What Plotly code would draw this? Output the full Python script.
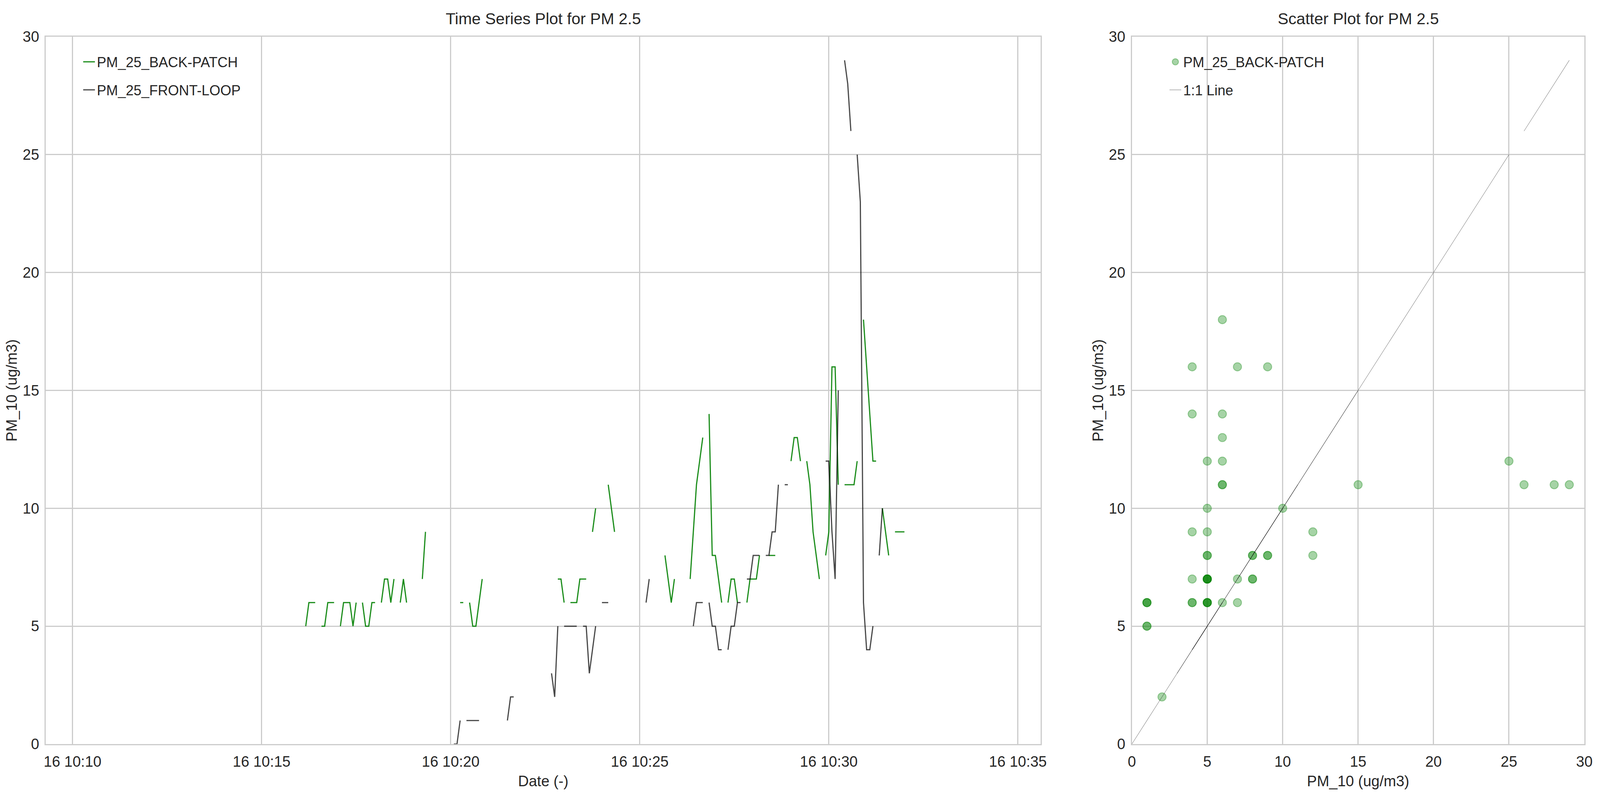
import pandas as pd
import plotly.graph_objects as go

N = None

# 5-second samples starting 16 10:16:00, one row per minute, gaps = None
START = "2023-01-16 10:16:00"

back_patch = [
    N, N, 5, 6, 6, 6, N, 5, 5, 6, 6, 6,            # 10:16
    N, 5, 6, 6, 6, 5, 6, N, 6, 5, 5, 6,            # 10:17
    6, N, 6, 7, 7, 6, 7, N, 6, 7, 6, N,            # 10:18
    N, N, N, 7, 9, N, N, N, N, N, N, N,            # 10:19
    N, N, N, 6, 6, N, 6, 5, 5, 6, 7, N,            # 10:20
    N, N, N, N, N, N, N, N, 2, N, N, N,            # 10:21
    N, N, N, N, N, N, N, N, N, N, 7, 7,            # 10:22
    6, N, 6, 6, 6, 7, 7, 7, N, 9, 10, N,           # 10:23
    N, N, 11, 10, 9, N, N, N, N, N, N, N,          # 10:24
    N, N, N, N, N, N, N, N, 8, 7, 6, 7,            # 10:25
    N, N, N, N, 7, 9, 11, 12, 13, N, 14, 8,        # 10:26
    8, 7, 6, N, 6, 7, 7, 6, N, N, 6, 7,            # 10:27
    7, 7, 8, N, N, 8, 8, 8, N, N, N, N,            # 10:28
    12, 13, 13, 12, N, 12, 11, 9, 8, 7, N, 8,      # 10:29
    9, 16, 16, 11, N, 11, 11, 11, 11, 12, N, 18,   # 10:30
    16, 14, 12, 12, N, 10, 9, 8, N, 9, 9, 9,       # 10:31
    9, N, N, N, N, N, N, N, N, N, N, N,            # 10:32
]

front_loop = [
    N, N, N, N, N, N, N, N, N, N, N, N,            # 10:16
    N, N, N, N, N, N, N, N, N, N, N, N,            # 10:17
    N, N, N, N, N, N, N, N, N, N, N, N,            # 10:18
    N, N, N, N, N, N, N, N, N, N, N, N,            # 10:19
    N, 0, 0, 1, N, 1, 1, 1, 1, 1, N, N,            # 10:20
    N, N, N, N, N, N, 1, 2, 2, N, N, N,            # 10:21
    N, N, N, N, N, N, N, N, 3, 2, 5, N,            # 10:22
    5, 5, 5, 5, 5, N, 5, 5, 3, 4, 5, N,            # 10:23
    6, 6, 6, N, N, N, N, N, N, N, N, N,            # 10:24
    N, N, 6, 7, N, N, N, N, N, N, N, N,            # 10:25
    N, N, N, N, N, 5, 6, 6, 6, N, 6, 5,            # 10:26
    5, 4, 4, N, 4, 5, 5, 6, 6, N, 7, 7,            # 10:27
    8, 8, 8, N, 8, 8, 9, 9, 11, N, 11, 11,         # 10:28
    N, N, N, N, N, N, N, N, N, N, N, 12,           # 10:29
    12, 9, 7, 15, N, 29, 28, 26, N, 25, 23, 6,     # 10:30
    4, 4, 5, N, 8, 10, N, N, N, N, N, N,           # 10:31
    N, N, N, N, N, N, N, N, N, N, N, N,            # 10:32
]

times = pd.date_range(START, periods=len(back_patch), freq="5s")

# scatter: front vs back where both sensors reported
sc_x = [f for f, b in zip(front_loop, back_patch) if f is not None and b is not None]
sc_y = [b for f, b in zip(front_loop, back_patch) if f is not None and b is not None]

# 1:1 line drawn through the front values, broken at gaps
runs = []
cur = []
for v in front_loop:
    if v is None:
        if len(cur) > 1:
            runs.append(cur)
        cur = []
    else:
        cur.append(v)
if len(cur) > 1:
    runs.append(cur)

# browser viewport is 4096x2061 (width capped); page body keeps its 8px margin
SX = 4096 / 5802
PAD = 8
W, H = 4096 - 2 * PAD, 2061 - 2 * PAD


def cx(p):
    return p * SX - PAD


def cy(p):
    return p - PAD


TXT = "#262626"
GRID = "#cccccc"
FONT = "Liberation Sans, Arial, sans-serif"
FS = 38

fig = go.Figure()
fig.add_trace(go.Scatter(x=times, y=back_patch, mode="lines", name="PM_25_BACK-PATCH",
                         line=dict(color="rgba(0,128,0,0.9)", width=3), connectgaps=False,
                         legend="legend", legendgroup="back"))
fig.add_trace(go.Scatter(x=times, y=front_loop, mode="lines", name="PM_25_FRONT-LOOP",
                         line=dict(color="rgba(0,0,0,0.72)", width=3), connectgaps=False,
                         legend="legend", legendgroup="front"))
fig.add_trace(go.Scatter(x=sc_x, y=sc_y, mode="markers", name="PM_25_BACK-PATCH",
                         xaxis="x2", yaxis="y2", legend="legend2", legendgroup="sc",
                         marker=dict(size=21, color="rgba(0,128,0,0.35)",
                                     line=dict(color="rgba(0,128,0,0.35)", width=2.2))))
for i, run in enumerate(runs):
    fig.add_trace(go.Scatter(x=run, y=run, mode="lines", name="1:1 Line",
                             xaxis="x2", yaxis="y2", legend="legend2", legendgroup="one",
                             showlegend=(i == 0),
                             line=dict(color="rgba(0,0,0,0.45)", width=1.1)))

ax = dict(showgrid=True, gridcolor=GRID, gridwidth=2.5, showline=True, linecolor=GRID,
          linewidth=3.2, mirror=True, zeroline=False, automargin=False,
          tickfont=dict(size=FS, color=TXT, family=FONT))
xt = dict(ticks="outside", tickcolor="rgba(0,0,0,0)", ticklen=9)
yt = dict(ticks="outside", tickcolor="rgba(0,0,0,0)", ticklen=6)
leg = dict(xanchor="left", yanchor="top", bgcolor="rgba(0,0,0,0)", tracegroupgap=22,
           font=dict(size=36, color=TXT))

fig.update_layout(
    width=W, height=H,
    margin=dict(l=cx(166), t=cy(94), r=W - cx(5745), b=H - cy(1905), pad=0),
    paper_bgcolor="white", plot_bgcolor="white",
    font=dict(family=FONT, color=TXT, size=FS),
    xaxis=dict(ax, **xt, domain=[0, 0.6467], type="date",
               range=["2023-01-16 10:09:17.4", "2023-01-16 10:35:36.3"],
               tick0="2023-01-16 10:10:00", dtick=300000, tickformat="%d %H:%M",
               title=dict(text="Date (-)", font=dict(size=FS, color=TXT), standoff=17)),
    yaxis=dict(ax, **yt, anchor="x", range=[0, 30], dtick=5,
               title=dict(text="PM_10 (ug/m3)", font=dict(size=FS, color=TXT), standoff=3)),
    xaxis2=dict(ax, **xt, domain=[0.7059, 1], anchor="y2", range=[0, 30], dtick=5,
                title=dict(text="PM_10 (ug/m3)", font=dict(size=FS, color=TXT), standoff=17)),
    yaxis2=dict(ax, **yt, anchor="x2", range=[0, 30], dtick=5,
                title=dict(text="PM_10 (ug/m3)", font=dict(size=FS, color=TXT), standoff=3)),
    legend=dict(leg, x=0.0231, y=0.981),
    legend2=dict(leg, x=0.7291, y=0.981),
    annotations=[
        dict(text="Time Series Plot for PM 2.5", x=0.3234, y=1.0254, xref="paper", yref="paper",
             xanchor="center", yanchor="middle", showarrow=False,
             font=dict(size=41, color=TXT)),
        dict(text="Scatter Plot for PM 2.5", x=0.853, y=1.0254, xref="paper", yref="paper",
             xanchor="center", yanchor="middle", showarrow=False,
             font=dict(size=41, color=TXT)),
    ],
)

fig.write_html("out.html")
